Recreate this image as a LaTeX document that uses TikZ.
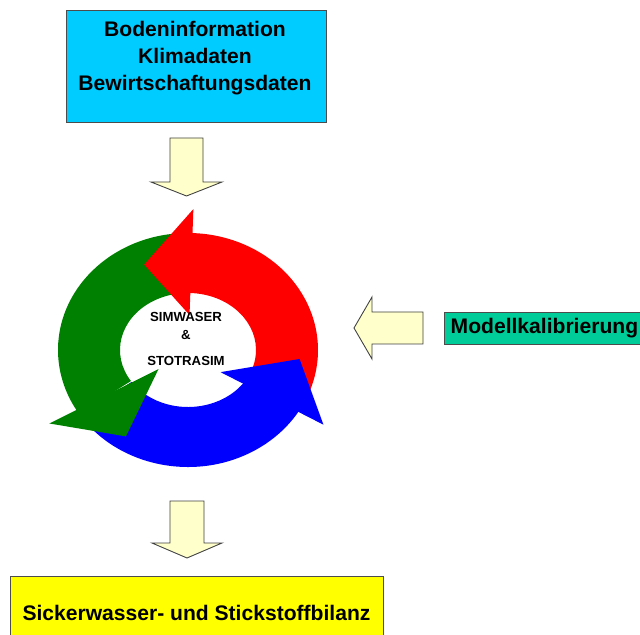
\documentclass[tikz,border=0pt]{standalone}
\usepackage{fontspec}
\setmainfont{Liberation Sans}
\usetikzlibrary{positioning,calc}
\definecolor{inputblue}{RGB}{0,204,255}
\definecolor{calibgreen}{RGB}{0,204,153}
\definecolor{resultyellow}{RGB}{255,255,0}
\definecolor{arrowyellow}{RGB}{255,255,204}
\definecolor{cyclered}{RGB}{255,0,0}
\definecolor{cyclegreen}{RGB}{0,128,0}
\definecolor{cycleblue}{RGB}{0,0,255}
\tikzset{
 box/.style={rectangle,draw=black!70,line width=0.5pt,inner sep=0pt},
 boxtext/.style={align=center,font=\fontsize{12}{15.3}\selectfont\bfseries},
 modeltext/.style={align=center,font=\fontsize{7.5}{10.2}\selectfont\bfseries},
 blockarrow/.style={draw=black!75,fill=arrowyellow,line width=0.5pt,line join=miter}}

\begin{document}
\begin{tikzpicture}[x=0.02cm,y=-0.02cm]
\useasboundingbox (0,0) rectangle (640,635);
% inputs
\node[box,fill=inputblue,minimum width=5.2cm,minimum height=2.24cm] (input) at (196,66) {};
\node[boxtext] (inputtext) at (195,58) {Bodeninformation\\Klimadaten\\Bewirtschaftungsdaten};
% model cycle
\begin{scope}[shift={(188,350)},yscale=-1]
\foreach \a/\b/\col in {-31/88/cyclered,88/210/cyclegreen,210/329/cycleblue}
 \fill[\col] ({\a+4}:130 and 117) arc[start angle=\a+4,end angle=\b+3,x radius=130,y radius=117]
  -- ({\b+3}:68 and 57) arc[start angle=\b+3,end angle=\a+4,x radius=68,y radius=57] -- cycle;
\foreach \b/\e/\ix/\iy/\c/\tx/\ty/\col in {88/24/44/35/116/100/95/cyclered,
  210/30/34/38/237/114/103/cyclegreen,329/28/38/43/355/112/103/cycleblue}
 \fill[\col] (\b:{130+\e} and {117+\e}) -- (\c:{\tx} and {\ty}) -- (\b:{\ix} and {\iy}) -- cycle;
\end{scope}
\node[modeltext] (model) at (186,339) {SIMWASER\\\&\\[5pt]STOTRASIM};
% calibration
\node[box,fill=calibgreen,anchor=west,minimum height=0.64cm,minimum width=4cm,
 font=\fontsize{12}{15.3}\selectfont\bfseries] (calib) at (444,328) {Modellkalibrierung};
% result
\node[box,fill=resultyellow,minimum width=7.46cm,minimum height=1.48cm,
 font=\fontsize{12}{15.3}\selectfont\bfseries] (result) at (196.5,613) {Sickerwasser- und Stickstoffbilanz};
% block arrows
\coordinate (in1) at (186.5,138);
\draw[blockarrow] (in1) ++(-16.5,0) -- ++(33,0) -- ++(0,44) -- ++(19,0) -- ++(-35.5,14)
 -- ++(-35.5,-14) -- ++(19,0) -- cycle;
\coordinate (in2) at (423,328);
\draw[blockarrow] (in2) ++(0,-16) -- ++(0,32) -- ++(-51,0) -- ++(0,15) -- ++(-18,-31)
 -- ++(18,-31) -- ++(0,15) -- cycle;
\coordinate (out1) at (187,501);
\draw[blockarrow] (out1) ++(-17,0) -- ++(34,0) -- ++(0,42) -- ++(18,0) -- ++(-35,15)
 -- ++(-35,-15) -- ++(18,0) -- cycle;
\end{tikzpicture}
\end{document}
